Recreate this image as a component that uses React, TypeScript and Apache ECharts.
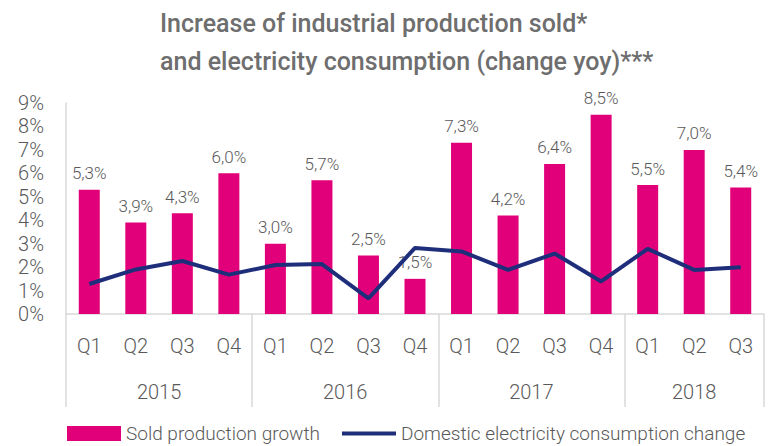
import React, { useEffect, useRef } from "react";
import * as echarts from "echarts";

const quarters = ["Q1", "Q2", "Q3", "Q4", "Q1", "Q2", "Q3", "Q4", "Q1", "Q2", "Q3", "Q4", "Q1", "Q2", "Q3"];
const soldProduction = [5.3, 3.9, 4.3, 6.0, 3.0, 5.7, 2.5, 1.5, 7.3, 4.2, 6.4, 8.5, 5.5, 7.0, 5.4];
const electricity = [1.28, 1.9, 2.26, 1.68, 2.09, 2.13, 0.67, 2.82, 2.67, 1.88, 2.58, 1.39, 2.78, 1.88, 1.99];
const years = ["2015", "2016", "2017", "2018"];
// half-quarter slots: year labels at their group centres, separators at group edges
const yearSlots = [4, 12, 20, 27];
const separatorSlots = [0, 8, 16, 24, 30];

const FONT = "Roboto, 'Noto Sans', sans-serif";
const TEXT = "#595959";
const GRID_LINE = "#d9d9d9";

export default function App() {
  const ref = useRef<HTMLDivElement>(null);
  useEffect(() => {
    if (!ref.current) return;
    const chart = echarts.init(ref.current, undefined, { renderer: "svg" });
    const yearAxisData: string[] = Array.from({ length: 31 }, () => "");
    yearSlots.forEach((s, i) => (yearAxisData[s] = years[i]));
    const legendText = { fontFamily: FONT, fontSize: 19, color: TEXT, fontWeight: 300, lineHeight: 19 };
    chart.setOption({
      animation: false,
      textStyle: { fontFamily: FONT },
      title: {
        text: "Increase of industrial production sold*\nand electricity consumption (change yoy)***",
        left: 155,
        top: -1,
        textStyle: { fontFamily: FONT, fontSize: 25, fontWeight: 500, color: "#6e6e6e", lineHeight: 38 },
      },
      legend: [
        {
          left: 67,
          top: 424,
          padding: 0,
          itemWidth: 54,
          itemHeight: 15,
          itemGap: 5,
          icon: "rect",
          textStyle: legendText,
          data: ["Sold production growth"],
        },
        {
          left: 342,
          top: 424,
          padding: 0,
          itemWidth: 54,
          itemHeight: 4,
          icon: "rect",
          textStyle: legendText,
          data: ["Domestic electricity consumption change"],
        },
      ],
      grid: { left: 66, right: 7, top: 103, bottom: 132, containLabel: false },
      xAxis: [
        {
          type: "category",
          data: quarters,
          axisLine: { show: true, lineStyle: { color: GRID_LINE, width: 1.5 } },
          axisTick: { show: false },
          axisLabel: { margin: 22, fontSize: 20, color: TEXT, fontWeight: 300, fontFamily: FONT },
        },
        {
          type: "category",
          data: yearAxisData,
          boundaryGap: false,
          position: "bottom",
          axisLine: { show: false },
          axisTick: {
            show: true,
            length: 93,
            interval: (index: number) => separatorSlots.includes(index),
            lineStyle: { color: GRID_LINE, width: 1.5 },
          },
          axisLabel: { interval: 0, margin: 68, fontSize: 20, color: TEXT, fontWeight: 300, fontFamily: FONT },
        },
      ],
      yAxis: {
        type: "value",
        min: 0,
        max: 9,
        interval: 1,
        axisLine: { show: true, lineStyle: { color: GRID_LINE, width: 1.5 } },
        axisTick: { show: false },
        splitLine: { show: false },
        axisLabel: { formatter: "{value}%", margin: 22, fontSize: 20, color: TEXT, fontWeight: 300, fontFamily: FONT },
      },
      series: [
        {
          name: "Sold production growth",
          type: "bar",
          data: soldProduction,
          barWidth: 21,
          itemStyle: { color: "#E2007A" },
          label: {
            show: true,
            position: "top",
            distance: 8,
            fontSize: 17,
            color: TEXT,
            fontWeight: 300,
            fontFamily: FONT,
            formatter: (p: any) => p.value.toFixed(1).replace(".", ",") + "%",
          },
        },
        {
          name: "Domestic electricity consumption change",
          type: "line",
          data: electricity,
          symbol: "none",
          lineStyle: { color: "#1F2E7A", width: 4 },
          itemStyle: { color: "#1F2E7A" },
        },
      ],
    });
    return () => chart.dispose();
  }, []);
  return <div ref={ref} style={{ width: 771, height: 446, position: "absolute", left: 0, top: 0 }} />;
}
